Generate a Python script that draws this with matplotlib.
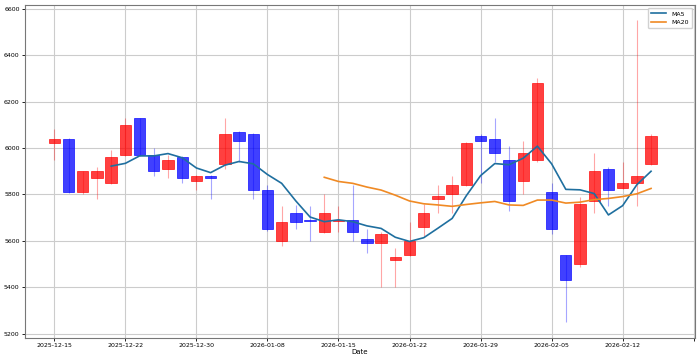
import matplotlib
matplotlib.use("Agg")
import matplotlib.pyplot as plt
import numpy as np

# trading days (x axis is an index, labels every 5th day)
dates = ["2025-12-15", "2025-12-16", "2025-12-17", "2025-12-18", "2025-12-19",
         "2025-12-22", "2025-12-23", "2025-12-24", "2025-12-26", "2025-12-29",
         "2025-12-30", "2026-01-02", "2026-01-05", "2026-01-06", "2026-01-07",
         "2026-01-08", "2026-01-09", "2026-01-12", "2026-01-13", "2026-01-14",
         "2026-01-15", "2026-01-16", "2026-01-19", "2026-01-20", "2026-01-21",
         "2026-01-22", "2026-01-23", "2026-01-26", "2026-01-27", "2026-01-28",
         "2026-01-29", "2026-01-30", "2026-02-02", "2026-02-03", "2026-02-04",
         "2026-02-05", "2026-02-06", "2026-02-09", "2026-02-10", "2026-02-11",
         "2026-02-12", "2026-02-13", "2026-02-16"]

opens = [6020, 6040, 5810, 5870, 5850, 5970, 6130, 5970, 5910, 5960,
         5860, 5880, 5930, 6070, 6060, 5820, 5600, 5720, 5690, 5640,
         5685, 5690, 5610, 5590, 5520, 5540, 5660, 5780, 5800, 5840,
         6050, 6040, 5950, 5860, 5950, 5810, 5540, 5500, 5770, 5910,
         5830, 5850, 5930]
closes = [6040, 5810, 5900, 5900, 5960, 6100, 5970, 5900, 5950, 5870,
          5880, 5870, 6060, 6030, 5820, 5650, 5680, 5680, 5685, 5720,
          5690, 5640, 5590, 5630, 5530, 5600, 5720, 5795, 5840, 6020,
          6030, 5980, 5770, 5980, 6280, 5650, 5430, 5760, 5900, 5820,
          5850, 5880, 6050]
highs = [6080, 6045, 5900, 5920, 5990, 6130, 6130, 6000, 5970, 5965,
         5885, 5885, 6130, 6075, 6065, 5840, 5750, 5755, 5750, 5800,
         5750, 5840, 5650, 5640, 5570, 5680, 5760, 5840, 5880, 6025,
         6060, 6130, 6010, 6030, 6300, 5850, 5540, 5790, 5980, 5920,
         5940, 6550, 6060]
lows = [5950, 5805, 5800, 5780, 5845, 5965, 5965, 5880, 5870, 5850,
        5820, 5780, 5910, 5940, 5780, 5645, 5580, 5650, 5600, 5635,
        5640, 5600, 5550, 5400, 5400, 5535, 5620, 5720, 5720, 5835,
        5850, 5940, 5730, 5800, 5940, 5630, 5250, 5490, 5720, 5750,
        5825, 5750, 5925]

# moving averages (start at day 4 and day 19)
ma5 = [5922, 5934, 5966, 5966, 5976, 5958, 5914, 5894, 5926, 5942,
       5932, 5886, 5848, 5772, 5703, 5683, 5691, 5683, 5665, 5654,
       5616, 5598, 5614, 5655, 5697, 5795, 5881, 5933, 5928, 5956,
       6008, 5932, 5822, 5820, 5804, 5712, 5752, 5842, 5900]
ma20 = [5874, 5856, 5848, 5832, 5819, 5797, 5772, 5760, 5755, 5749,
        5757, 5764, 5770, 5755, 5753, 5776, 5776, 5763, 5767, 5778,
        5783, 5791, 5803, 5826]

x = np.arange(len(dates))
o = np.array(opens)
c = np.array(closes)
up = c >= o
cols = np.where(up, "red", "blue")

fig = plt.figure(figsize=(7, 3.61), dpi=100)
ax = fig.add_axes([0.035, 0.064, 0.958, 0.922])

# wicks
ax.vlines(x, lows, highs, colors=cols, linewidth=0.8, alpha=0.35, zorder=2)
# bodies
bottom = np.minimum(o, c)
height = np.abs(c - o)
ax.bar(x, height, bottom=bottom, width=0.8, color=cols, alpha=0.75,
       edgecolor=cols, linewidth=0.6, zorder=3)

ax.plot(x[4:], ma5, color="#1f6f9f", linewidth=1.2, label="MA5", zorder=4)
ax.plot(x[19:], ma20, color="#f08a24", linewidth=1.2, label="MA20", zorder=4)

ticks = list(range(0, 46, 5))
ax.set_xticks(ticks)
ax.set_xticklabels([dates[t] if t < len(dates) else "" for t in ticks])
ax.set_xlim(-2.1, 45.1)
ax.set_ylim(5183, 6615)
ax.set_yticks(range(5200, 6601, 200))
ax.tick_params(labelsize=4.5, length=2, width=0.6, pad=1.5)
ax.set_xlabel("Date", fontsize=5, labelpad=1)
ax.grid(True, color="#cccccc", linewidth=0.8)
ax.set_axisbelow(True)
for s in ax.spines.values():
    s.set_color("#777777")
    s.set_linewidth(0.8)
ax.legend(loc="upper right", fontsize=4.5, handlelength=2.5, borderpad=0.5,
          framealpha=0.9, edgecolor="#cccccc")

plt.savefig("out.png", dpi=100)
